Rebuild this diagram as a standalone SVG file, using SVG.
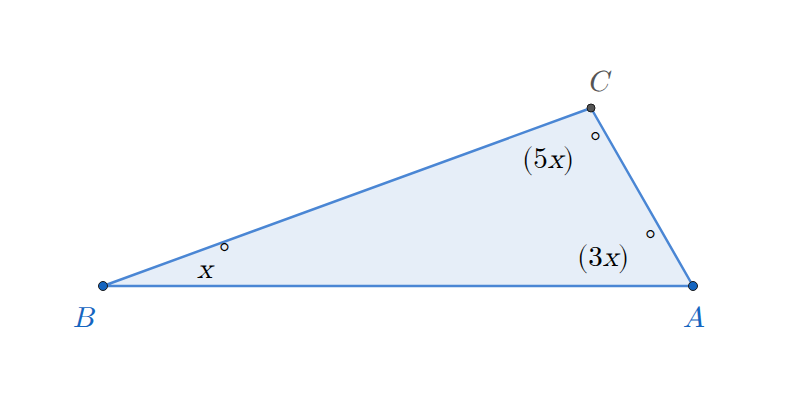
<svg xmlns="http://www.w3.org/2000/svg" width="800" height="401" viewBox="0 0 800 401">
<style>
.t{font-family:"Latin Modern Math","DejaVu Serif","Liberation Serif",serif;font-size:29px}
.i{font-style:italic}
.pt{stroke:#1a1a1a;stroke-width:1}
</style>
<rect width="800" height="401" fill="#fff"/>
<g id="connectors">
<polygon points="103,286 693,286 591,108" fill="#e6eef8" stroke="#4a86d4" stroke-width="2.5" stroke-linejoin="round"/>
</g>
<g id="B"><circle class="pt" cx="103" cy="286" r="4.5" fill="#1565c0"/><text class="t i" x="73" y="327" fill="#1565c0">B</text></g>
<g id="A"><circle class="pt" cx="693" cy="286" r="4.5" fill="#1565c0"/><text class="t i" x="683" y="327" fill="#1565c0">A</text></g>
<g id="C"><circle class="pt" cx="591" cy="108" r="4" fill="#555"/><text class="t i" x="587" y="91" fill="#555">C</text></g>
<g id="labels" fill="#000">
<text class="t" x="522" y="168">(5<tspan class="i">x</tspan>)</text><text class="t" x="590" y="152" font-size="20">°</text>
<text class="t" x="577" y="266">(3<tspan class="i">x</tspan>)</text><text class="t" x="645" y="250" font-size="20">°</text>
<text class="t i" x="197" y="278">x</text><text class="t" x="219" y="263" font-size="20">°</text>
</g>
</svg>
